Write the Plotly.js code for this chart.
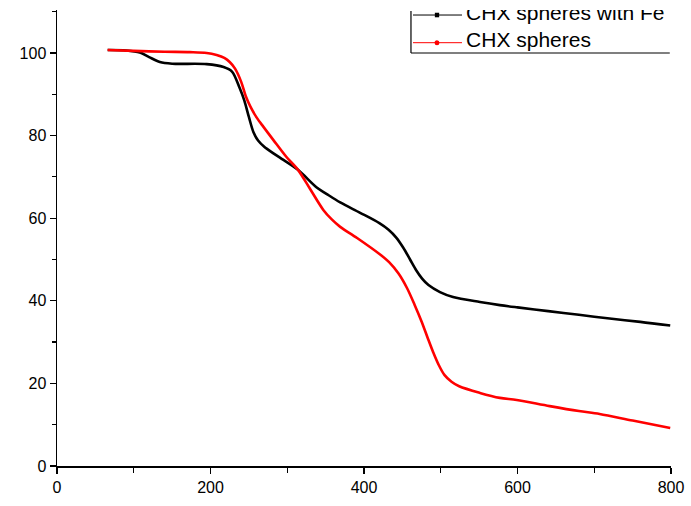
<!DOCTYPE html>
<html>
<head>
<meta charset="utf-8">
<script src="https://cdn.plot.ly/plotly-3.0.1.min.js"></script>
<style>html,body{margin:0;padding:0;background:#fff;}#chart{width:691px;height:506px;}</style>
</head>
<body>
<div id="chart"></div>
<script>
// Series: CHX spheres with Fe (black)
const feTemp = [66, 90, 108, 120, 134, 150, 195, 217, 228, 238, 244, 250, 256, 262, 270, 282, 295, 314, 338, 351, 369, 395, 420, 432, 442, 451, 460, 468, 476, 484, 499, 516, 551, 577, 600, 640, 680, 720, 760, 799];
const feMass = [100.7, 100.6, 100.1, 99.0, 97.8, 97.4, 97.3, 96.6, 95.5, 91.5, 88.5, 84.5, 80.8, 78.8, 77.3, 75.7, 74.1, 71.7, 67.5, 65.9, 63.8, 61.3, 58.8, 57.2, 55.3, 52.9, 50.0, 47.4, 45.3, 43.8, 42.1, 40.9, 39.7, 38.95, 38.4, 37.5, 36.6, 35.7, 34.9, 34.0];
// Series: CHX spheres (red)
const chxTemp = [66, 100, 140, 173, 195, 208, 218, 225, 232, 240, 246, 252, 260, 269, 282, 299, 314, 330, 347, 358, 369, 391, 421, 433, 445, 456, 466, 475, 483, 490, 497, 505, 514, 524, 551, 577, 599, 642, 680, 707, 750, 799];
const chxMass = [100.7, 100.5, 100.3, 100.2, 100.0, 99.5, 98.8, 97.8, 96.2, 93.0, 89.5, 87.0, 84.4, 82.1, 78.9, 74.8, 71.7, 67.0, 62.0, 59.7, 57.9, 55.2, 51.2, 49.3, 46.6, 43.1, 39.0, 35.0, 31.0, 27.6, 24.6, 22.0, 20.4, 19.3, 17.7, 16.5, 16.0, 14.5, 13.3, 12.6, 11.0, 9.2];
const seriesNames = ["CHX spheres with Fe", "CHX spheres"];
const xTickVals = [0, 200, 400, 600, 800];
const yTickVals = [0, 20, 40, 60, 80, 100];
// legend label anchor positions (data units), clipped by the plot area like the original
const legendLabelX = [533, 533];
const legendLabelY = [109.2, 102.7];

const FONT = "Liberation Sans, Arial, sans-serif";

const traces = [
  {x: feTemp, y: feMass, type: "scatter", mode: "lines", name: seriesNames[0],
   line: {color: "#000000", width: 2.6, shape: "spline", smoothing: 0.9}},
  {x: chxTemp, y: chxMass, type: "scatter", mode: "lines", name: seriesNames[1],
   line: {color: "#ff0000", width: 2.6, shape: "spline", smoothing: 0.9}},
  {x: legendLabelX, y: legendLabelY, type: "scatter", mode: "text", text: seriesNames,
   textposition: "middle right", cliponaxis: true, marker: {size: 1},
   textfont: {family: FONT, size: 21, color: "#000"}, hoverinfo: "skip"}
];

// legend frame and samples (paper coords; plot spans px 57..671 x 10..466)
const lx0 = 0.5765, lx1 = 0.998, lyb = 0.9057, lytop = 0.998;
const sampleX0 = 0.5798, sampleX1 = 0.6596, markX = 0.6189;
const row1 = 0.989, row2 = 0.9283;
const shapes = [
  {type: "line", xref: "paper", yref: "paper", x0: lx0, x1: lx0, y0: lyb, y1: lytop, line: {color: "#000", width: 1.2}},
  {type: "line", xref: "paper", yref: "paper", x0: lx0, x1: lx1, y0: lyb, y1: lyb, line: {color: "#000", width: 1.2}},
  {type: "line", xref: "paper", yref: "paper", x0: sampleX0, x1: sampleX1, y0: row1, y1: row1, line: {color: "#000", width: 1}},
  {type: "line", xref: "paper", yref: "paper", x0: sampleX0, x1: sampleX1, y0: row2, y1: row2, line: {color: "#ff0000", width: 1}},
  {type: "rect", xref: "paper", yref: "paper", x0: markX - 0.0035, x1: markX + 0.0035, y0: row1 - 0.005, y1: row1 + 0.005, fillcolor: "#000", line: {width: 0}},
  {type: "circle", xref: "paper", yref: "paper", x0: markX - 0.004, x1: markX + 0.004, y0: row2 - 0.0055, y1: row2 + 0.0055, fillcolor: "#ff0000", line: {width: 0}}
];

const layout = {
  width: 691, height: 506,
  margin: {l: 57, r: 20, t: 10, b: 40},
  paper_bgcolor: "#fff", plot_bgcolor: "#fff",
  showlegend: false,
  font: {family: FONT, size: 16, color: "#000"},
  xaxis: {
    range: [0, 800], tickvals: xTickVals, ticks: "outside", ticklen: 6, tickwidth: 1.2, tickcolor: "#000",
    showline: true, linecolor: "#000", linewidth: 1.5, showgrid: false, zeroline: false,
    minor: {dtick: 100, tick0: 0, ticks: "outside", ticklen: 5, tickwidth: 1.2, tickcolor: "#000", showgrid: false},
    tickfont: {family: FONT, size: 16, color: "#000"}
  },
  yaxis: {
    range: [0, 110.4], tickvals: yTickVals, ticks: "outside", ticklen: 6, tickwidth: 1.2, tickcolor: "#000",
    showline: true, linecolor: "#000", linewidth: 1.5, showgrid: false, zeroline: false,
    minor: {dtick: 10, tick0: 0, ticks: "outside", ticklen: 4, tickwidth: 1.2, tickcolor: "#000", showgrid: false},
    tickfont: {family: FONT, size: 16, color: "#000"}
  },
  shapes: shapes
};

Plotly.newPlot("chart", traces, layout, {displayModeBar: false, staticPlot: true});
</script>
</body>
</html>
